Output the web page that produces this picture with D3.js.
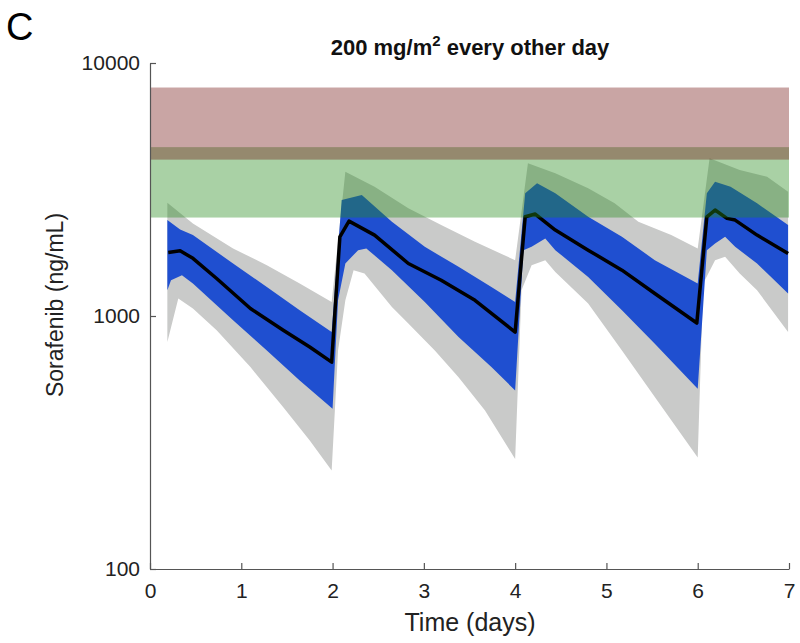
<!DOCTYPE html>
<html><head><meta charset="utf-8">
<script src="https://cdn.jsdelivr.net/npm/d3@7"></script>
<style>body{margin:0;background:#fff}svg{display:block;font-family:"Liberation Sans",Arial,sans-serif}</style>
</head><body><svg id="c" width="800" height="643"></svg>
<script>
// ---- data ----
const xTicks = [0,1,2,3,4,5,6,7];
const yTicks = [100,1000,10000];
const redBand = [4150, 8000];
const greenBand = [2450, 4650];

const medianT = [0.2,0.33,0.47,0.73,1.10,1.46,1.75,1.99,2.08,2.18,2.46,2.83,3.19,3.56,4.0,4.11,4.22,4.44,4.80,5.17,5.53,5.99,6.10,6.19,6.32,6.41,6.65,6.99];
const medianV = [1783,1810,1690,1407,1070,878,754,657,2056,2372,2088,1613,1385,1154,864,2467,2529,2185,1821,1518,1227,938,2467,2623,2432,2394,2088,1767];

const grayHiT = [0.19,0.47,0.91,1.28,1.64,1.99,2.14,2.46,2.83,3.19,3.56,4.0,4.14,4.44,4.80,5.09,5.35,5.71,6.0,6.13,6.46,6.76,6.99];
const grayHiV = [2804,2323,1849,1588,1344,1136,3720,3244,2664,2288,1964,1662,4017,3666,3197,2788,2357,2088,1849,4203,3779,3554,3099];
const grayLoT = [0.19,0.31,0.47,0.73,1.10,1.46,1.75,1.99,2.06,2.14,2.23,2.35,2.65,2.83,3.12,3.38,3.67,4.0,4.07,4.18,4.33,4.44,4.80,5.17,5.53,6.0,6.06,6.19,6.30,6.46,6.65,6.99];
const grayLoV = [789,1172,1070,878,628,436,322,245,731,1154,1518,1472,1086,933,731,573,423,272,1264,1588,1662,1494,1120,731,478,276,1344,1662,1713,1472,1264,864];

const blueHiT = [0.19,0.33,0.47,0.91,1.28,1.64,1.99,2.10,2.32,2.65,3.01,3.38,3.74,4.0,4.11,4.24,4.44,4.80,5.17,5.53,6.0,6.10,6.19,6.36,6.65,6.99];
const blueHiV = [2394,2199,2088,1613,1303,1053,864,2873,3007,2357,1877,1564,1303,1136,3054,3346,3054,2467,2056,1662,1344,3054,3396,3244,2788,2288];
const blueLoT = [0.19,0.23,0.35,0.47,0.91,1.28,1.64,2.0,2.06,2.14,2.28,2.37,2.65,3.01,3.38,3.74,4.0,4.09,4.18,4.33,4.44,4.80,5.17,5.53,6.0,6.10,6.19,6.30,6.41,6.65,6.99];
const blueLoV = [1264,1385,1449,1344,962,731,556,430,1154,1613,1821,1849,1518,1136,826,628,508,1821,1877,2026,1821,1427,1053,777,516,1821,1935,2056,1877,1613,1227];

// ---- chart ----
const svg = d3.select("#c");
const x = d3.scaleLinear().domain([0,7]).range([150,789]);
const y = d3.scaleLog().domain([100,10000]).range([569,63]);

const pts = (T,V) => T.map((t,i)=>[t,V[i]]);
const line = d3.line().x(d=>x(d[0])).y(d=>y(d[1]));
const poly = (hiT,hiV,loT,loV) => line(pts(hiT,hiV).concat(pts(loT,loV).reverse())) + "Z";

svg.append("path").attr("d", poly(grayHiT,grayHiV,grayLoT,grayLoV)).attr("fill","#c9cac9");
svg.append("path").attr("d", poly(blueHiT,blueHiV,blueLoT,blueLoV)).attr("fill","#1f4fd0");
svg.append("path").attr("d", line(pts(medianT,medianV))).attr("fill","none")
  .attr("stroke","#000").attr("stroke-width",3.5).attr("stroke-linejoin","round");

// target bands (translucent, on top)
svg.append("rect").attr("x",x(0)).attr("width",x(7)-x(0))
  .attr("y",y(greenBand[1])).attr("height",y(greenBand[0])-y(greenBand[1]))
  .attr("fill","rgb(40,140,30)").attr("fill-opacity",0.4);
svg.append("rect").attr("x",x(0)).attr("width",x(7)-x(0))
  .attr("y",y(redBand[1])).attr("height",y(redBand[0])-y(redBand[1]))
  .attr("fill","rgb(120,30,27)").attr("fill-opacity",0.4);

// axes
const ax = svg.append("g").attr("transform","translate(0,569)")
  .call(d3.axisBottom(x).tickValues(xTicks).tickFormat(d3.format("d")).tickSizeInner(-6).tickSizeOuter(0).tickPadding(14));
const ay = svg.append("g").attr("transform","translate(150,0)")
  .call(d3.axisLeft(y).tickValues(yTicks).tickFormat(d3.format("d")).tickSizeInner(-6).tickSizeOuter(0).tickPadding(10));
[ax,ay].forEach(g=>{
  g.selectAll("path,line").attr("stroke","#555").attr("stroke-width",1.2);
  g.selectAll("text").attr("fill","#222").style("font-size","21px").style("font-family","Liberation Sans, Arial, sans-serif");
});

// labels
svg.append("text").attr("x",470).attr("y",631).attr("text-anchor","middle")
  .style("font-size","25px").attr("fill","#222").text("Time (days)");
svg.append("text").attr("transform","translate(63,305) rotate(-90)").attr("text-anchor","middle")
  .style("font-size","23px").attr("fill","#222").text("Sorafenib (ng/mL)");
const ti = svg.append("text").attr("x",470).attr("y",55).attr("text-anchor","middle")
  .style("font-size","22px").style("font-weight","bold").attr("fill","#111");
ti.append("tspan").text("200 mg/m");
ti.append("tspan").attr("dy",-9).style("font-size","15px").text("2");
ti.append("tspan").attr("dy",9).text(" every other day");
svg.append("text").attr("x",6).attr("y",40).style("font-size","38px").attr("fill","#000").text("C");
</script></body></html>
